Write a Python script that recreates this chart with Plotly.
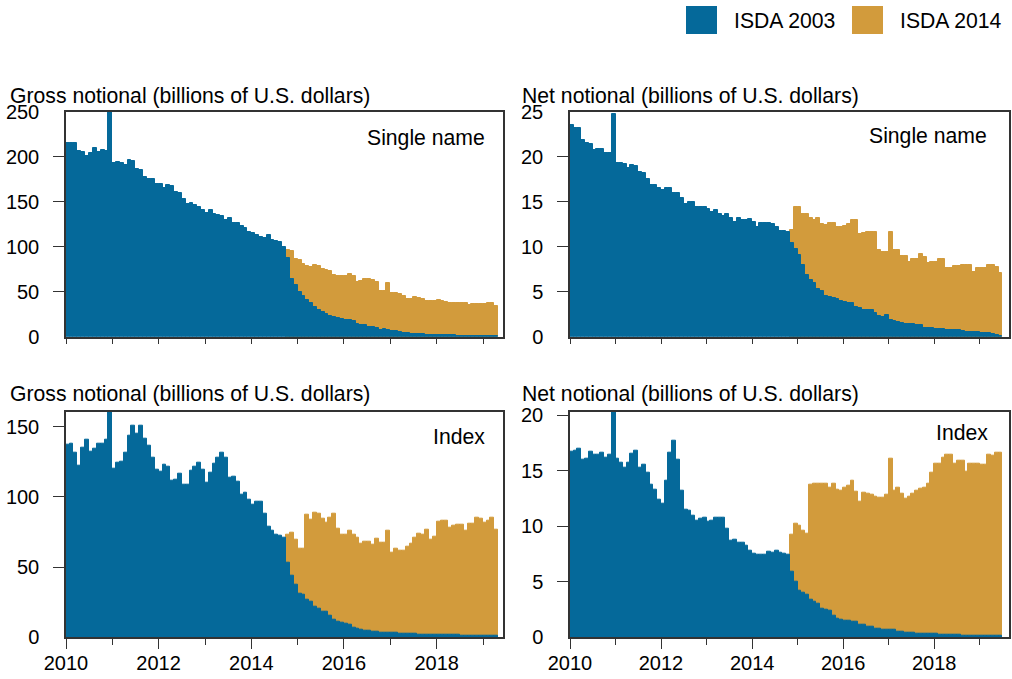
import pandas as pd
import plotly.graph_objects as go

# %% colours / fonts
BLUE = "#05699A"
GOLD = "#D29B3C"
FRAME = "#333333"
FONT = "Liberation Sans, Arial, sans-serif"

W, H = 1012, 679

# %% data, monthly from Jan 2010
# gross notional, single name (bn USD)
gross_single_2003 = [
    216, 216, 215, 207, 205, 201, 204, 210, 206, 208, 207, 270,
    193, 194, 193, 191, 197, 195, 187, 186, 178, 176, 175, 170,
    170, 166, 169, 168, 161, 160, 153, 148, 149, 146, 144, 141,
    138, 141, 137, 135, 134, 130, 132, 127, 126, 123, 121, 117,
    115, 113, 111, 110, 113, 108, 107, 105, 100,
    88, 64, 57, 50, 45, 41, 37, 33, 30, 27,
    25, 23, 22, 20.5, 20, 18.5, 19, 17, 14, 13.5,
    13, 11, 10.5, 9.5, 8, 9, 7, 6.5, 6, 5,
    4, 3.7, 3.3, 3, 2.8, 2.6, 2.4, 2.2, 2, 1.9,
    1.8, 1.6, 1.5, 1.4, 1.3, 1.2, 1.1, 1, 0.9, 0.8,
    0.7, 0.6, 0.5, 0.4, 0.4,
]
# total (ISDA 2003 + ISDA 2014) once the 2014 definitions appear
gross_single_total = [None] * 57 + [
    96, 95, 87, 85, 81, 79, 78, 80, 79, 75,
    74, 73, 69, 68, 68, 68, 70, 68, 61, 62,
    64, 64, 63, 61, 51, 51, 60, 49, 49, 48,
    45, 42, 42, 44, 43, 42, 40, 40, 40, 41,
    40, 39, 37, 38, 38, 38, 38, 35, 36, 36,
    36, 36, 37, 37, 34,
]

# net notional, single name (bn USD)
net_single_2003 = [
    23.5, 23.2, 23.2, 21.9, 21.6, 21.4, 20.8, 20.9, 20.9, 20.4, 20.4, 24.8,
    19.3, 19.3, 19.2, 18.8, 19.1, 19.0, 18.3, 18.2, 17.5, 16.9, 16.9, 16.6,
    16.3, 16.5, 16.5, 16.0, 16.0, 15.4, 14.8, 15.0, 15.0, 14.4, 14.4, 14.4,
    14.2, 13.9, 14.1, 13.7, 13.4, 13.6, 13.2, 12.8, 13.2, 13.0, 13.0, 13.1,
    12.8, 12.2, 12.7, 12.6, 12.6, 12.5, 12.2, 11.8, 11.8, 11.7,
    10.4, 9.8, 9.1, 8.0, 6.9, 6.3, 6.0, 5.3, 5.1, 4.5,
    4.4, 4.3, 4.2, 4.0, 3.9, 3.8, 3.7, 3.3, 3.2, 3.0,
    3.0, 3.0, 2.6, 2.3, 2.2, 2.4, 1.9, 1.8, 1.6, 1.5,
    1.4, 1.4, 1.4, 1.3, 1.3, 1.0, 1.0, 1.0, 0.9, 0.9,
    0.9, 0.8, 0.7, 0.7, 0.7, 0.6, 0.5, 0.5, 0.5, 0.5,
    0.4, 0.4, 0.4, 0.3, 0.2, 0.1,
]
net_single_total = [None] * 58 + [
    11.9, 14.4, 14.4, 13.7, 13.6, 13.2, 13.0, 13.2, 12.5, 12.4,
    12.7, 12.7, 12.2, 12.2, 12.3, 12.5, 13.0, 13.0, 11.4, 11.5,
    11.6, 11.6, 11.6, 9.6, 9.4, 9.4, 11.7, 9.6, 9.6, 9.0,
    9.0, 8.3, 8.7, 8.7, 9.2, 8.9, 8.2, 8.3, 8.3, 8.6,
    8.6, 7.6, 7.6, 7.9, 7.9, 8.0, 8.0, 8.0, 7.2, 7.6,
    7.6, 7.6, 8.0, 8.0, 7.8, 7.1,
]

# gross notional, index (bn USD)
gross_index_2003 = [
    137, 138, 131.5, 122, 135, 141, 132, 134, 138, 137.7, 140.5, 175,
    120, 124.4, 125, 131.7, 143.4, 150.7, 145.3, 150.5, 141.4, 136.2, 128.2, 119.2,
    118, 122.7, 121.5, 111.4, 112.6, 116.8, 109, 109, 118.5, 121.5, 124.4, 119.2,
    109.8, 117.4, 124, 128.2, 131.5, 128, 113.8, 114.5, 111, 101.4, 103.1, 97.9,
    94.3, 96.6, 96.6, 87.9, 78.9, 75.8, 73.4, 72.2, 71.3,
    52.8, 43.6, 37.4, 31.4, 30.2, 26.7, 25.5, 21.9, 20.7, 18.4,
    17.9, 15.4, 12.5, 11.3, 10.6, 9.7, 9.0, 6.6, 6.2, 5.5,
    5.0, 5.0, 4.3, 3.8, 3.6, 3.1, 3.1, 3.1, 3.1, 2.6,
    2.6, 2.6, 2.6, 2.6, 1.9, 1.9, 1.9, 1.9, 1.9, 1.7,
    1.7, 1.7, 1.7, 1.7, 1.5, 1.4, 1.3, 1.2, 1.1, 1.0,
    1.0, 0.9, 0.9, 0.8, 0.8,
]
gross_index_total = [None] * 57 + [
    73, 74.7, 69.4, 63.1, 63.1, 87.2, 84.1, 88.9, 88.4, 84.8,
    81.7, 85.5, 87.9, 77.7, 73, 73, 76.1, 73, 70.6, 66.6,
    68.2, 68.2, 66.3, 69.9, 67.1, 67.1, 76.1, 60.0, 62.8, 61.6,
    61.6, 64.7, 66.6, 71.3, 73.7, 73.4, 76.5, 69.4, 71.8, 82.1,
    83.1, 83.1, 78.3, 79.3, 80.5, 80.0, 76.1, 81.2, 81.2, 85.5,
    84.3, 81.7, 83.1, 85.2, 76.5,
]

# net notional, index (bn USD)
net_index_2003 = [
    16.7, 16.8, 17.0, 16.0, 16.1, 16.7, 16.4, 16.4, 16.6, 16.2, 16.4, 21,
    16.1, 15.7, 15.25, 15.7, 16.5, 16.8, 15.3, 15.5, 14.8, 13.7, 13.3, 12.4,
    12.05, 14.1, 16.6, 17.65, 16.0, 13.2, 11.5, 11.4, 10.9, 10.5, 10.7, 10.8,
    10.4, 10.5, 10.8, 10.8, 10.8, 9.8, 8.7, 8.8, 8.5, 8.5, 8.2, 7.8,
    7.5, 7.4, 7.4, 7.4, 7.7, 7.6, 7.8, 7.6, 7.5, 7.4,
    5.9, 5.0, 4.2, 4.0, 3.8, 3.4, 3.2, 3.0, 2.6, 2.5,
    2.4, 1.9, 1.7, 1.6, 1.5, 1.5, 1.4, 1.4, 1.1, 1.1,
    0.95, 0.95, 0.8, 0.8, 0.7, 0.7, 0.65, 0.65, 0.5, 0.5,
    0.4, 0.4, 0.4, 0.35, 0.35, 0.3, 0.3, 0.3, 0.3, 0.2,
    0.2, 0.2, 0.2, 0.2, 0.2, 0.15, 0.1, 0.1, 0.1, 0.1,
    0.1, 0.1, 0.1, 0.1, 0.1, 0.1,
]
net_index_total = [None] * 58 + [
    9.2, 10.2, 10.0, 9.6, 9.3, 13.7, 13.8, 13.8, 13.8, 13.8,
    13.5, 13.8, 13.3, 13.2, 13.5, 13.6, 14.1, 13.1, 12.2, 13.0,
    12.95, 12.8, 12.65, 12.6, 12.6, 12.8, 16.1, 13.2, 13.5, 12.95,
    12.5, 12.65, 12.95, 13.2, 13.4, 13.5, 13.8, 14.8, 15.6, 15.6,
    16.2, 16.4, 16.4, 15.6, 15.9, 15.9, 14.9, 15.6, 15.6, 15.6,
    15.5, 15.5, 16.4, 16.3, 16.6, 16.6,
]

label_years = ["2010", "2012", "2014", "2016", "2018"]
minor_years = ["2011", "2013", "2015", "2017", "2019"]


# %% helpers
def months(n):
    return pd.date_range("2010-01-01", periods=n, freq="MS")


def month_widths(dates):
    # bar width in ms, one calendar month, bars start at the 1st
    return [((d + pd.offsets.MonthBegin(1)) - d).total_seconds() * 1000
            for d in dates]


def add_panel(fig, xa, ya, base_vals, total_vals):
    x = months(len(base_vals))
    w = month_widths(x)
    fig.add_trace(go.Bar(x=x, y=total_vals, width=w, offset=0,
                         marker=dict(color=GOLD, line=dict(color=GOLD, width=1)),
                         name="ISDA 2014", xaxis=xa, yaxis=ya, showlegend=False))
    fig.add_trace(go.Bar(x=x, y=base_vals, width=w, offset=0,
                         marker=dict(color=BLUE, line=dict(color=BLUE, width=1)),
                         name="ISDA 2003", xaxis=xa, yaxis=ya, showlegend=False))


def px_x(p):
    return p / W


def px_y(p):
    return 1 - p / H


fig = go.Figure()
add_panel(fig, "x", "y", gross_single_2003, gross_single_total)
add_panel(fig, "x2", "y2", net_single_2003, net_single_total)
add_panel(fig, "x3", "y3", gross_index_2003, gross_index_total)
add_panel(fig, "x4", "y4", net_index_2003, net_index_total)

left_dom = [px_x(66), px_x(503.3)]
right_dom = [px_x(570), px_x(1009.3)]
top_dom = [px_y(336.7), px_y(112)]
bot_dom = [px_y(637.3), px_y(411.7)]


def xaxis_cfg(dom, anchor, end, labels):
    return dict(domain=dom, anchor=anchor, type="date",
                range=["2010-01-01", end],
                showline=True, mirror=True, linecolor=FRAME, linewidth=1.5,
                showgrid=False, zeroline=False,
                tickmode="array", tickvals=[y + "-01-01" for y in label_years],
                ticktext=label_years, showticklabels=labels,
                ticks="outside", ticklen=10 if labels else 6,
                tickcolor=FRAME, tickwidth=1.2,
                minor=dict(tickmode="array",
                           tickvals=[y + "-01-01" for y in minor_years],
                           ticks="outside", ticklen=6, tickcolor=FRAME,
                           tickwidth=1.2, showgrid=False),
                tickfont=dict(family=FONT, size=20, color="black"),
                ticklabelstandoff=-3)


def yaxis_cfg(dom, anchor, rng, vals, minor_vals):
    return dict(domain=dom, anchor=anchor, range=rng,
                showline=True, mirror=True, linecolor=FRAME, linewidth=1.5,
                showgrid=False, zeroline=False,
                tickmode="array", tickvals=vals, ticks="",
                minor=dict(tickmode="array", tickvals=minor_vals,
                           ticks="outside", ticklen=11, tickcolor=FRAME,
                           tickwidth=1.2, showgrid=False),
                tickfont=dict(family=FONT, size=20, color="black"),
                ticklabelstandoff=21)


fig.update_layout(
    width=W, height=H,
    margin=dict(l=0, r=0, t=0, b=0),
    template="none",
    paper_bgcolor="white", plot_bgcolor="white",
    barmode="overlay", bargap=0,
    showlegend=False,
    font=dict(family=FONT, size=20, color="black"),
    xaxis=xaxis_cfg(left_dom, "y", "2019-06-10", False),
    xaxis2=xaxis_cfg(right_dom, "y2", "2019-08-26", False),
    xaxis3=xaxis_cfg(left_dom, "y3", "2019-06-10", True),
    xaxis4=xaxis_cfg(right_dom, "y4", "2019-08-26", True),
    yaxis=yaxis_cfg(top_dom, "x", [0, 250], [0, 50, 100, 150, 200, 250],
                    [50, 100, 150, 200]),
    yaxis2=yaxis_cfg(top_dom, "x2", [0, 25], [0, 5, 10, 15, 20, 25],
                     [5, 10, 15, 20]),
    yaxis3=yaxis_cfg(bot_dom, "x3", [0, 160.7], [0, 50, 100, 150],
                     [50, 100, 150]),
    yaxis4=yaxis_cfg(bot_dom, "x4", [0, 20.3], [0, 5, 10, 15, 20],
                     [5, 10, 15, 20]),
)

# %% titles and panel labels
txt = dict(family=FONT, size=21.2, color="black")
notes = [
    ("Gross notional (billions of U.S. dollars)", 8, 96, "left"),
    ("Net notional (billions of U.S. dollars)", 520, 96, "left"),
    ("Gross notional (billions of U.S. dollars)", 8, 394, "left"),
    ("Net notional (billions of U.S. dollars)", 520, 394, "left"),
    ("Single name", 487, 138, "right"),
    ("Single name", 989, 136, "right"),
    ("Index", 487, 436, "right"),
    ("Index", 990, 433, "right"),
    ("ISDA 2003", 732, 20, "left"),
    ("ISDA 2014", 898, 20, "left"),
]
for text, x, y, anchor in notes:
    fig.add_annotation(text=text, x=px_x(x), y=px_y(y), xref="paper", yref="paper",
                       xanchor=anchor, yanchor="middle", showarrow=False, font=txt)

# legend swatches
for x0, col in [(686, BLUE), (852, GOLD)]:
    fig.add_shape(type="rect", xref="paper", yref="paper",
                  x0=px_x(x0), x1=px_x(x0 + 31), y0=px_y(34), y1=px_y(6),
                  fillcolor=col, line=dict(width=0))

# page has a default body margin; drop it so the figure sits at (0, 0)
fig.write_html("out.html",
               config={"displayModeBar": False},
               post_script="document.body.style.margin='0';"
                           "document.body.style.padding='0';")
